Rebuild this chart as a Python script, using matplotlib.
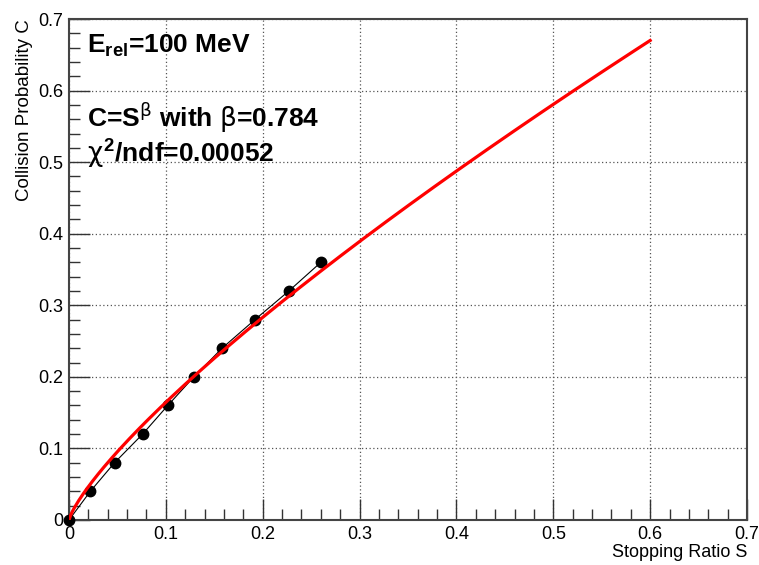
import numpy as np
import matplotlib
matplotlib.use("Agg")
import matplotlib.pyplot as plt
from matplotlib.ticker import MultipleLocator

plt.rcParams['font.family'] = ['Liberation Sans', 'DejaVu Sans']
plt.rcParams['mathtext.fontset'] = 'custom'
plt.rcParams['mathtext.rm'] = 'Liberation Sans:bold'
plt.rcParams['mathtext.bf'] = 'Liberation Sans:bold'
plt.rcParams['mathtext.it'] = 'DejaVu Sans'

# Data points (stopping ratio S, collision probability C)
S_data = [0.0, 0.022, 0.047, 0.076, 0.102, 0.129, 0.158, 0.192, 0.227, 0.260]
C_data = [0.0, 0.04, 0.08, 0.12, 0.16, 0.20, 0.24, 0.28, 0.32, 0.36]

# Fit: C = S^beta
beta = 0.784
fit_S_max = 0.6

x_ticks = [0, 0.1, 0.2, 0.3, 0.4, 0.5, 0.6, 0.7]
y_ticks = [0, 0.1, 0.2, 0.3, 0.4, 0.5, 0.6, 0.7]
x_ticklabels = ['0', '0.1', '0.2', '0.3', '0.4', '0.5', '0.6', '0.7']
y_ticklabels = ['0', '0.1', '0.2', '0.3', '0.4', '0.5', '0.6', '0.7']

fig = plt.figure(figsize=(7.59, 5.65), dpi=100)
ax = fig.add_axes([69/759, 1-520/565, (747-69)/759, (520-19)/565])

S_fit = np.linspace(0, fit_S_max, 300)
C_fit = S_fit ** beta

ax.plot(S_data, C_data, color='black', lw=0.8, zorder=3)
ax.plot(S_data, C_data, 'o', color='black', ms=7.5, zorder=4, clip_on=False)
ax.plot(S_fit, C_fit, color='#ff0000', lw=2.3, zorder=5)

ax.set_xlim(0, 0.7)
ax.set_ylim(0, 0.7)
ax.set_xticks(x_ticks)
ax.set_xticklabels(x_ticklabels)
ax.set_yticks(y_ticks)
ax.set_yticklabels(y_ticklabels)
ax.xaxis.set_minor_locator(MultipleLocator(0.02))
ax.yaxis.set_minor_locator(MultipleLocator(0.02))
ax.tick_params(which='major', direction='in', length=15, width=1, labelsize=13, pad=4, colors='#333333', labelcolor='black')
ax.tick_params(which='minor', direction='in', length=8, width=1, colors='#333333')
ax.tick_params(top=False, right=False, which='both')
ax.grid(True, which='major', linestyle=(0, (1, 2)), color='#555555', lw=0.9)
for sp in ax.spines.values():
    sp.set_linewidth(1.5)
    sp.set_color('#444444')

ax.set_xlabel('Stopping Ratio S', fontsize=13, loc='right', labelpad=1)
ax.set_ylabel('Collision Probability C', fontsize=13.5, loc='top', labelpad=4)

ax.text(0.027, 0.934, r'$\mathbf{E}_{\mathbf{rel}}$=100 MeV', transform=ax.transAxes,
        fontsize=19, fontweight='bold', va='baseline', ha='left')
ax.text(0.027, 0.784, r'C=S$^{\beta}$ with $\beta$=0.784', transform=ax.transAxes,
        fontsize=19, fontweight='bold', va='baseline', ha='left')
ax.text(0.027, 0.716, r'$\chi^{\mathbf{2}}$/ndf=0.00052', transform=ax.transAxes,
        fontsize=19, fontweight='bold', va='baseline', ha='left')

fig.savefig('out.png', dpi=100)
